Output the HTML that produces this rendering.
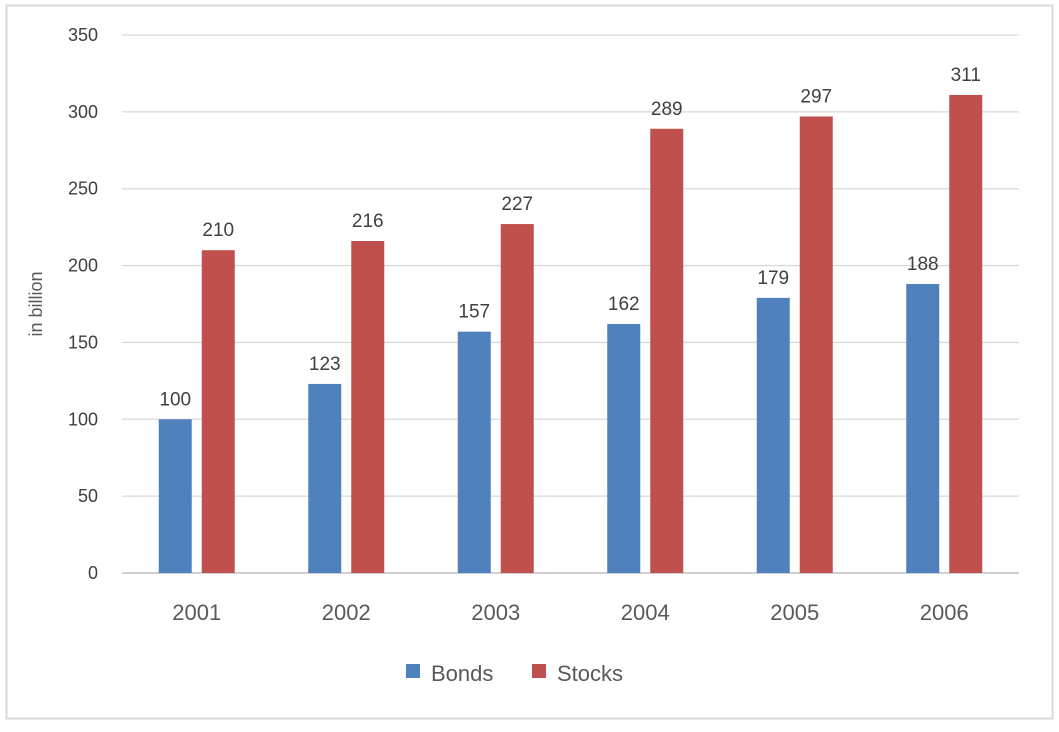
<!DOCTYPE html>
<html><head><meta charset="utf-8"><style>
body{margin:0;background:#fff;}
svg text{font-family:"Liberation Sans",sans-serif;}
</style></head><body>
<svg width="1059" height="727" xmlns="http://www.w3.org/2000/svg">
<rect x="6.5" y="5.5" width="1046" height="713" fill="#fff" stroke="#d9d9d9" stroke-width="2"/>
<g id="grid"></g><g id="bars"></g><g id="labels"></g>
<text x="42" y="304" transform="rotate(-90 42 304)" text-anchor="middle" font-size="18" fill="#595959">in billion</text>
<g>
<rect x="406" y="664" width="14" height="14" fill="#4f81bd"/>
<text x="431" y="681" font-size="22" fill="#595959">Bonds</text>
<rect x="532" y="664" width="14" height="14" fill="#c0504d"/>
<text x="557" y="681" font-size="22" fill="#595959">Stocks</text>
</g>
</svg>
<script>
const categories=["2001","2002","2003","2004","2005","2006"];
const bonds=[100,123,157,162,179,188];
const stocks=[210,216,227,289,297,311];
const yTicks=[0,50,100,150,200,250,300,350];
const NS="http://www.w3.org/2000/svg";
const L=122,R=1019,Y0=573,Y1=35,MAX=350;
const y=v=>Y0-(v/MAX)*(Y0-Y1);
const bw=(R-L)/categories.length;
const cx=i=>L+bw*(i+0.5);
function mk(t,a,p){const e=document.createElementNS(NS,t);for(const k in a)e.setAttribute(k,a[k]);p.appendChild(e);return e;}
const grid=document.getElementById('grid'),bars=document.getElementById('bars'),labels=document.getElementById('labels');
yTicks.forEach(v=>{
 const ln=mk('line',{x1:L,x2:R,y1:y(v),y2:y(v),stroke:v===0?'#d0d0d0':'#d9d9d9','stroke-width':v===0?2:1.3},grid);
 
 
 const t=mk('text',{x:98,y:y(v)+6,'text-anchor':'end','font-size':18,fill:'#404040'},labels);
 t.textContent=v;
 
 
});
categories.forEach((c,i)=>{
 const t=mk('text',{x:cx(i),y:620,'text-anchor':'middle','font-size':22,fill:'#595959'},labels);
 t.textContent=c;
 
 
 [[bonds,'#4f81bd',-38,'bonds'],[stocks,'#c0504d',5,'stocks']].forEach(([arr,col,off,nm])=>{
  const v=arr[i];
  const r=mk('rect',{x:cx(i)+off,y:y(v),width:33,height:Y0-y(v),fill:col},bars);
  
  
  const lt=mk('text',{x:cx(i)+off+16.5,y:y(v)-14,'text-anchor':'middle','font-size':19,fill:'#404040'},labels);
  lt.textContent=v;
  
  
 });
});
</script>
</body></html>
